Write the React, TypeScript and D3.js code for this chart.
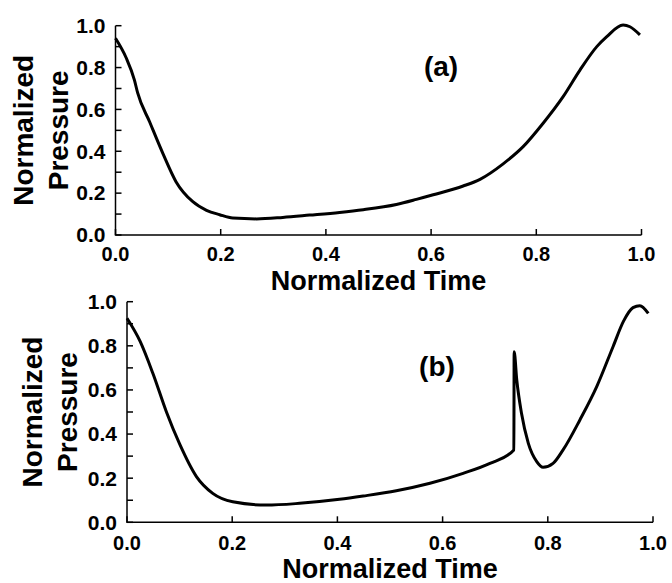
import React from "react";
import * as d3 from "d3";

const timeA = [0, 0.02, 0.036, 0.042, 0.065, 0.09, 0.115, 0.147, 0.173, 0.198, 0.223, 0.268, 0.318, 0.369, 0.426, 0.471, 0.534, 0.572, 0.604, 0.661, 0.693, 0.737, 0.775, 0.813, 0.851, 0.883, 0.915, 0.934, 0.965, 0.978, 0.997];
const pressA = [0.94, 0.848, 0.74, 0.68, 0.54, 0.39, 0.255, 0.159, 0.118, 0.097, 0.081, 0.077, 0.084, 0.095, 0.108, 0.121, 0.146, 0.17, 0.192, 0.234, 0.266, 0.34, 0.422, 0.534, 0.661, 0.788, 0.9, 0.948, 1.003, 0.995, 0.956];

const timeB = [0, 0.025, 0.05, 0.075, 0.1, 0.132, 0.163, 0.201, 0.265, 0.328, 0.404, 0.449, 0.512, 0.576, 0.639, 0.69, 0.7355, 0.736, 0.741, 0.75, 0.763, 0.779, 0.791, 0.81, 0.829, 0.861, 0.893, 0.924, 0.944, 0.962, 0.975, 0.991];
const pressB = [0.925, 0.82, 0.67, 0.5, 0.355, 0.207, 0.131, 0.093, 0.078, 0.086, 0.104, 0.119, 0.143, 0.177, 0.222, 0.267, 0.328, 0.773, 0.645, 0.494, 0.358, 0.275, 0.249, 0.267, 0.328, 0.464, 0.615, 0.796, 0.912, 0.973, 0.982, 0.947];

const xTicks = [0, 0.2, 0.4, 0.6, 0.8, 1.0];
const yTicks = [0, 0.2, 0.4, 0.6, 0.8, 1.0];
const yMinor = [0.1, 0.3, 0.5, 0.7, 0.9];

const FONT = "'Liberation Sans', Arial, Helvetica, sans-serif";

type PanelProps = {
  t: number[];
  p: number[];
  x0: number;
  x1: number;
  y0: number;
  y1: number;
  label: string;
  labelX: number;
  labelY: number;
  titleY: number;
  yl1: number;
  yl2: number;
  tickBase: number;
};

function Panel(props: PanelProps) {
  const { t, p, x0, x1, y0, y1, label, labelX, labelY, titleY, yl1, yl2, tickBase } = props;
  const xs = d3.scaleLinear().domain([0, 1]).range([x0, x1]);
  const ys = d3.scaleLinear().domain([0, 1]).range([y0, y1]);
  const pts: [number, number][] = t.map((v, i) => [v, p[i]]);
  const line = d3
    .line<[number, number]>()
    .x((d) => xs(d[0]))
    .y((d) => ys(d[1]))
    .curve(d3.curveMonotoneX);
  const cy = (y0 + y1) / 2;
  const tl = 6;
  return (
    <g>
      <path d={line(pts) || ""} fill="none" stroke="#000" strokeWidth={3} strokeLinejoin="round" />
      <path
        d={`M${xs(0)},${ys(1)}V${ys(0)}H${xs(1)}`}
        fill="none"
        stroke="#000"
        strokeWidth={1.5}
      />
      {yTicks.concat(yMinor).map((v) => (
        <line key={"y" + v} x1={xs(0)} x2={xs(0) + tl} y1={ys(v)} y2={ys(v)} stroke="#000" strokeWidth={1.5} />
      ))}
      {xTicks.map((v) => (
        <line key={"x" + v} x1={xs(v)} x2={xs(v)} y1={ys(0)} y2={ys(0) - tl} stroke="#000" strokeWidth={1.5} />
      ))}
      {yTicks.map((v) => (
        <text
          key={"yl" + v}
          x={xs(0) - 10}
          y={ys(v)}
          dy="0.35em"
          textAnchor="end"
          fontFamily={FONT}
          fontWeight="bold"
          fontSize={21}
        >
          {v.toFixed(1)}
        </text>
      ))}
      {xTicks.map((v) => (
        <text
          key={"xl" + v}
          x={xs(v)}
          y={tickBase}
          textAnchor="middle"
          fontFamily={FONT}
          fontWeight="bold"
          fontSize={20}
        >
          {v.toFixed(1)}
        </text>
      ))}
      <text
        x={(xs(0) + xs(1)) / 2}
        y={titleY}
        textAnchor="middle"
        fontFamily={FONT}
        fontWeight="bold"
        fontSize={27}
      >
        Normalized Time
      </text>
      <text
        transform={`translate(${yl1},${cy}) rotate(-90)`}
        textAnchor="middle"
        fontFamily={FONT}
        fontWeight="bold"
        fontSize={28}
      >
        Normalized
      </text>
      <text
        transform={`translate(${yl2},${cy}) rotate(-90)`}
        textAnchor="middle"
        fontFamily={FONT}
        fontWeight="bold"
        fontSize={28}
      >
        Pressure
      </text>
      <text x={labelX} y={labelY} textAnchor="middle" fontFamily={FONT} fontWeight="bold" fontSize={28}>
        {label}
      </text>
    </g>
  );
}

export default function App() {
  return (
    <svg
      width={672}
      height={583}
      style={{ position: "absolute", left: 0, top: 0, background: "#fff" }}
    >
      <rect width={672} height={583} fill="#fff" />
      <Panel
        t={timeA}
        p={pressA}
        x0={115.5}
        x1={641.5}
        y0={235}
        y1={25.7}
        label="(a)"
        labelX={441}
        labelY={76}
        titleY={290}
        yl1={33}
        yl2={68}
        tickBase={261}
      />
      <Panel
        t={timeB}
        p={pressB}
        x0={127}
        x1={653}
        y0={522.3}
        y1={301.7}
        label="(b)"
        labelX={437}
        labelY={376}
        titleY={577.5}
        yl1={42}
        yl2={77}
        tickBase={549.5}
      />
    </svg>
  );
}
